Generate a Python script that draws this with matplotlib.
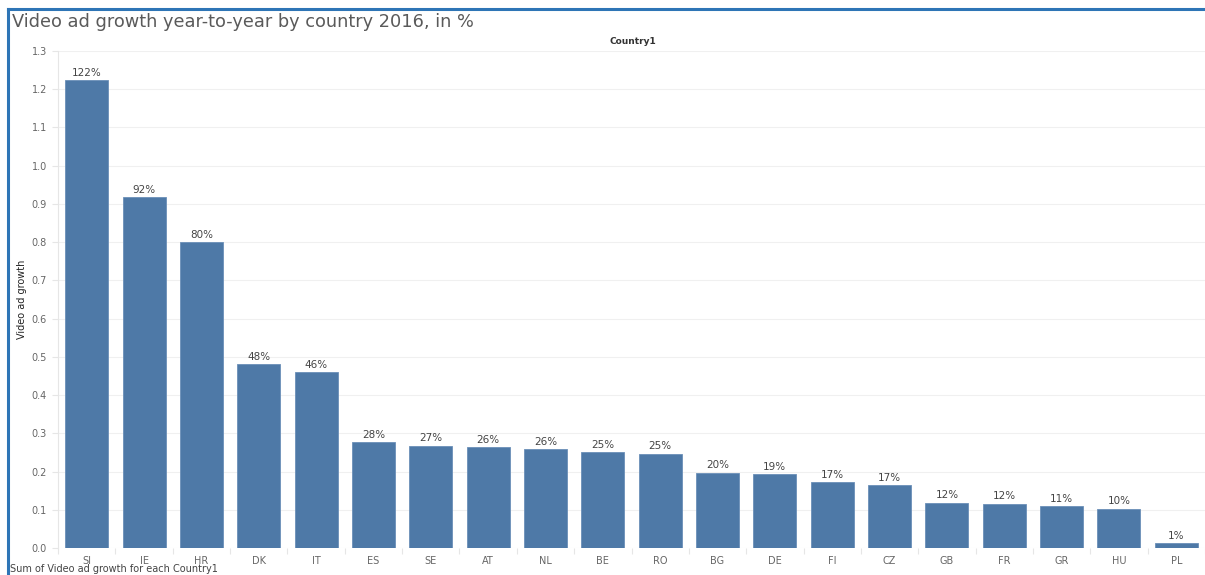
import matplotlib
matplotlib.use("Agg")
import matplotlib.pyplot as plt
import numpy as np

countries = ["SI", "IE", "HR", "DK", "IT", "ES", "SE", "AT", "NL", "BE",
             "RO", "BG", "DE", "FI", "CZ", "GB", "FR", "GR", "HU", "PL"]
growth = [1.224, 0.918, 0.800, 0.480, 0.460, 0.276, 0.268, 0.264, 0.259, 0.251,
          0.247, 0.197, 0.194, 0.173, 0.165, 0.119, 0.116, 0.109, 0.103, 0.012]
labels = ["122%", "92%", "80%", "48%", "46%", "28%", "27%", "26%", "26%", "25%",
          "25%", "20%", "19%", "17%", "17%", "12%", "12%", "11%", "10%", "1%"]
yticks = [0.0, 0.1, 0.2, 0.3, 0.4, 0.5, 0.6, 0.7, 0.8, 0.9, 1.0, 1.1, 1.2, 1.3]

W, H = 1205, 575
fig = plt.figure(figsize=(W / 100, H / 100), dpi=100)
fig.patch.set_facecolor("white")

# plot area in pixel terms
left, right, top, bottom = 58, 1205, 51, 548
ax = fig.add_axes([left / W, 1 - bottom / H, (right - left) / W, (bottom - top) / H])

x = np.arange(len(countries))
ax.bar(x, growth, width=0.75, color="#4e79a7", edgecolor="#6b8fb8", linewidth=0.6, zorder=3)
for xi, v, lab in zip(x, growth, labels):
    ax.text(xi, v + 0.006, lab, ha="center", va="bottom", fontsize=7.5, color="#444444")

ax.set_xlim(-0.5, len(countries) - 0.5)
ax.set_ylim(0, 1.3)
ax.set_yticks(yticks)
ax.set_yticklabels([f"{t:.1f}" for t in yticks], fontsize=7, color="#666666")
ax.set_xticks(x)
ax.set_xticklabels(countries, fontsize=7, color="#666666")
ax.set_xticks(np.arange(len(countries) + 1) - 0.5, minor=True)
ax.tick_params(axis="x", which="major", length=0, pad=6)
ax.tick_params(axis="x", which="minor", length=4, color="#e6e6e6", width=0.8)
ax.tick_params(axis="y", length=4, color="#e6e6e6", width=0.8, pad=4)
ax.grid(axis="y", color="#f0f0f0", linewidth=0.8, zorder=0)
for s in ["top", "right", "bottom"]:
    ax.spines[s].set_visible(False)
ax.spines["left"].set_color("#e6e6e6")
ax.set_ylabel("Video ad growth", fontsize=7, color="#222222",
              fontfamily=["Liberation Sans Narrow", "DejaVu Sans"])
ax.yaxis.set_label_coords((27 - left) / (right - left), 0.5)

fig.text(12 / W, 1 - 22 / H, "Video ad growth year-to-year by country 2016, in %",
         fontsize=12.8, color="#5a5a5a", va="center", ha="left")
fig.text(633 / W, 1 - 42 / H, "Country1", fontsize=6.5, color="#333333",
         fontweight="bold", ha="center", va="center")
fig.text(10 / W, 0.5 / H, "Sum of Video ad growth for each Country1", fontsize=7,
         color="#444444", ha="left", va="bottom")

# blue frame (left and top edges)
fig.add_artist(plt.Line2D([8 / W, 8 / W], [0, 1 - 9 / H], color="#2e75b6", lw=2.2))
fig.add_artist(plt.Line2D([8 / W, 1], [1 - 9 / H, 1 - 9 / H], color="#2e75b6", lw=2.2))

fig.savefig("out.png", dpi=100)
